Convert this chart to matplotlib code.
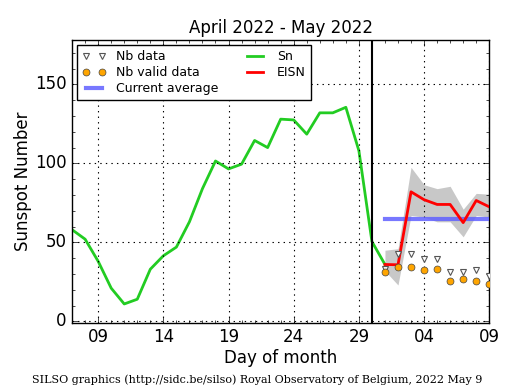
import matplotlib
matplotlib.use("Agg")
import matplotlib.pyplot as plt
import numpy as np
from matplotlib.ticker import MultipleLocator, FixedLocator

plt.style.use('classic')

# Days counted from April 0 (May 1 = 31)
sn_days = list(range(7, 32))
sn_values = [58, 52, 38, 21, 11, 14, 33, 41.5, 47, 63, 84, 101.5, 96.5, 99.5,
             114.5, 110, 128, 127.5, 118.5, 132, 132, 135.5, 108, 50.5, 36]

eisn_days = list(range(31, 40))
eisn_values = [36, 35.8, 82, 77, 74, 74, 62.5, 76.5, 72.5]
eisn_upper = [45, 46, 97.5, 86.5, 84, 85.5, 71, 81, 80.5]
eisn_lower = [32, 23, 67, 66, 63, 63, 53.5, 67, 66]

nb_data = [33, 42.5, 42.5, 39.5, 39.5, 31, 31, 32.5, 28.5]
nb_valid = [31, 34.7, 34.7, 32.6, 33, 25.6, 27, 25.8, 23.7]

current_average = 65
avg_days = [31, 39]

month_boundary = 30
tick_days = [9, 14, 19, 24, 29, 34, 39]
tick_labels = ['09', '14', '19', '24', '29', '04', '09']

fig = plt.figure(figsize=(5.15, 3.9), dpi=100, facecolor='white')
ax = fig.add_axes([0.14, 0.172, 0.81, 0.725])
ax.set_facecolor('white')

ax.fill_between(eisn_days, eisn_lower, eisn_upper, color='#c8c8c8', lw=0, zorder=1)
ax.plot(avg_days, [current_average] * 2, color='#6060ff', lw=3, alpha=0.85,
        label='Current average', zorder=3)
ax.plot(sn_days, sn_values, color='#22cc22', lw=2, label='Sn', zorder=2)
ax.plot(eisn_days, eisn_values, color='red', lw=2, label='EISN', zorder=4)
ax.plot(eisn_days, nb_data, ls='none', marker='v', ms=5, mfc='white',
        mec='#555555', mew=0.8, label='Nb data', zorder=5)
ax.plot(eisn_days, nb_valid, ls='none', marker='o', ms=5, mfc='orange',
        mec='#444444', mew=0.5, label='Nb valid data', zorder=6)
ax.axvline(month_boundary, color='black', lw=1.5, zorder=5)

ax.set_xlim(7, 39)
ax.set_ylim(-1, 178)
ax.xaxis.set_major_locator(FixedLocator(tick_days))
ax.set_xticklabels(tick_labels)
ax.xaxis.set_minor_locator(MultipleLocator(1))
ax.yaxis.set_major_locator(MultipleLocator(50))
ax.yaxis.set_minor_locator(MultipleLocator(10))
ax.grid(True, which='major', linestyle=':', color='black', lw=0.8)
ax.tick_params(labelsize=12)

ax.set_xlabel('Day of month', fontsize=12, labelpad=2)
ax.set_ylabel('Sunspot Number', fontsize=12, labelpad=2)
ax.set_title('April 2022 - May 2022', fontsize=12)

handles, labels = ax.get_legend_handles_labels()
order = ['Nb data', 'Nb valid data', 'Current average', 'Sn', 'EISN']
hmap = dict(zip(labels, handles))
leg = ax.legend([hmap[k] for k in order], order, loc='upper left', ncol=2,
                fontsize=9, numpoints=2, handlelength=1.9, handletextpad=0.8,
                labelspacing=0.25, frameon=True, borderpad=0.4,
                borderaxespad=0.4, columnspacing=2.0)
leg.get_frame().set_edgecolor('black')

fig.text(0.5, 0.012, 'SILSO graphics (http://sidc.be/silso) Royal Observatory of Belgium, 2022 May 9',
         ha='center', va='bottom', fontsize=8, family='DejaVu Serif')

fig.savefig('out.png', dpi=100, facecolor='white')
